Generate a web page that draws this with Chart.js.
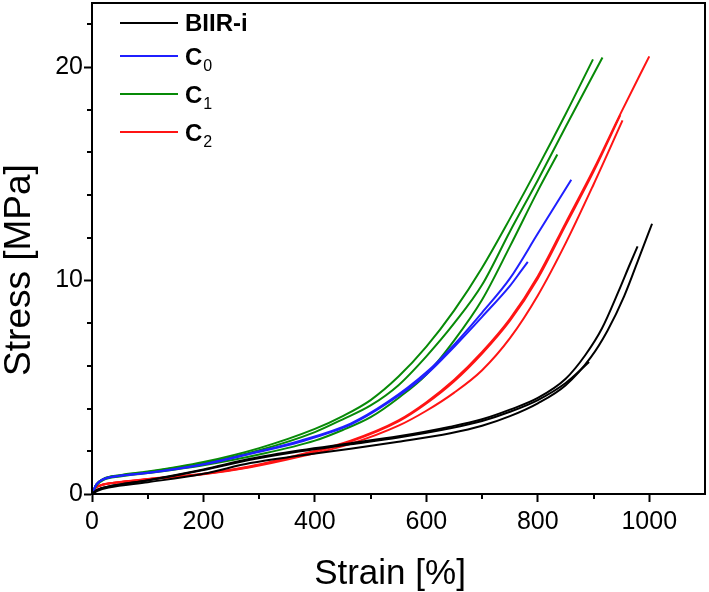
<!DOCTYPE html>
<html>
<head>
<meta charset="utf-8">
<script src="https://cdn.jsdelivr.net/npm/chart.js@4.4.1/dist/chart.umd.min.js"></script>
<style>
    html, body { margin: 0; padding: 0; background: #ffffff; }
    #wrap { width: 709px; height: 592px; }
</style>
</head>
<body>
<div id="wrap"><canvas id="stressChart"></canvas></div>
<script>
// Stress-strain curves, [strain %, stress MPa]
const biirA = [[0,0],[10,0.15],[30,0.3],[100,0.55],[200,0.95],[284,1.45],[374,1.8],[464,2.12],[550,2.45],[643,2.85],[700,3.2],[750,3.65],[800,4.25],[850,5.1],[895,6.4],[925,7.65],[955,9.27],[985,11.3],[1005,12.66]];
const biirB = [[0,0],[10,0.2],[30,0.35],[100,0.65],[200,1.15],[284,1.65],[374,2.05],[464,2.38],[550,2.7],[643,3.15],[700,3.5],[750,3.95],[800,4.5],[850,5.4],[885,6.5],[915,7.75],[945,9.5],[965,10.75],[979,11.6]];
const biirC = [[0,0],[10,0.2],[30,0.35],[100,0.63],[200,1.12],[284,1.6],[374,2.0],[464,2.33],[550,2.65],[643,3.08],[700,3.42],[750,3.85],[800,4.4],[850,5.2],[892,6.18]];

const c0A = [[0,0],[8,0.45],[20,0.7],[50,0.86],[100,1.0],[200,1.4],[284,1.9],[374,2.5],[464,3.3],[530,4.3],[600,5.7],[650,7.0],[700,8.5],[750,10.1],[800,12.2],[860,14.72]];
const c0B = [[0,0],[8,0.45],[20,0.68],[50,0.85],[100,0.98],[200,1.38],[284,1.88],[374,2.45],[464,3.25],[530,4.25],[600,5.6],[650,6.9],[700,8.3],[750,9.75],[770,10.45],[782,10.87]];

const c1A = [[0,0],[8,0.45],[20,0.7],[50,0.88],[100,1.05],[200,1.5],[300,2.15],[400,3.05],[450,3.65],[500,4.4],[550,5.5],[600,6.9],[650,8.6],[700,10.6],[750,12.9],[800,15.3],[850,17.8],[899,20.36]];
const c1B = [[0,0],[8,0.45],[20,0.7],[50,0.87],[100,1.03],[200,1.45],[300,2.05],[400,2.9],[450,3.5],[500,4.15],[550,5.1],[600,6.45],[650,8.0],[700,9.8],[750,12.3],[800,14.7],[850,17.2],[916,20.45]];
const c1C = [[0,0],[8,0.4],[20,0.65],[50,0.82],[100,0.98],[200,1.35],[300,1.85],[400,2.5],[450,3.0],[500,3.6],[550,4.5],[600,5.6],[650,7.2],[700,9.1],[750,11.6],[800,14.2],[835,15.9]];

const c2A = [[0,0],[5,0.25],[15,0.4],[50,0.56],[100,0.7],[200,0.95],[284,1.3],[374,1.85],[464,2.5],[550,3.45],[600,4.3],[650,5.35],[700,6.65],[750,8.2],[800,10.2],[850,12.7],[900,15.2],[950,17.9],[1000,20.5]];
const c2B = [[0,0],[5,0.25],[15,0.4],[50,0.55],[100,0.69],[200,0.94],[284,1.28],[374,1.82],[464,2.46],[550,3.4],[600,4.24],[650,5.28],[700,6.58],[750,8.12],[800,10.1],[850,12.6],[900,15.1],[948,17.75]];
const c2C = [[0,0],[5,0.25],[15,0.4],[50,0.55],[100,0.68],[200,0.92],[284,1.25],[374,1.75],[464,2.35],[550,3.2],[600,3.9],[650,4.75],[700,5.8],[750,7.3],[800,9.3],[850,11.75],[900,14.5],[952,17.5]];

const seriesNames = ['BIIR-i', 'C', 'C', 'C'];
const seriesSubs = ['', '0', '1', '2'];
const seriesColors = ['#000000', '#1f1fff', '#078a07', '#ff1414'];
const seriesCurves = [[biirA, biirB, biirC], [c0A, c0B], [c1A, c1B, c1C], [c2A, c2B, c2C]];

const xTitle = 'Strain [%]';
const yTitle = 'Stress [MPa]';
const xMajor = [0, 200, 400, 600, 800, 1000];
const xMinor = [100, 300, 500, 700, 900];
const yMajor = [0, 10, 20];
const yMinor = [2, 4, 6, 8, 12, 14, 16, 18, 22];

const FONT = '"Liberation Sans", Arial, sans-serif';

const datasets = [];
seriesCurves.forEach((curves, i) => {
    curves.forEach(c => {
        datasets.push({
            label: seriesNames[i] + seriesSubs[i],
            data: c.map(p => ({ x: p[0], y: p[1] })),
            borderColor: seriesColors[i],
            borderWidth: 2,
            pointRadius: 0,
            showLine: true,
            fill: false,
            cubicInterpolationMode: 'monotone'
        });
    });
});

// frame, minor ticks, axis titles and the legend with subscripts
const extrasPlugin = {
    id: 'extras',
    afterDraw(chart) {
        const ctx = chart.ctx;
        const a = chart.chartArea;
        const xs = chart.scales.x, ys = chart.scales.y;
        ctx.save();
        ctx.strokeStyle = '#000';
        ctx.lineWidth = 2;
        ctx.strokeRect(a.left, a.top, a.right - a.left, a.bottom - a.top);
        ctx.beginPath();
        xMinor.forEach(v => {
            const px = Math.round(xs.getPixelForValue(v));
            ctx.moveTo(px, a.bottom);
            ctx.lineTo(px, a.bottom + 5);
        });
        yMinor.forEach(v => {
            const py = Math.round(ys.getPixelForValue(v));
            ctx.moveTo(a.left, py);
            ctx.lineTo(a.left - 5, py);
        });
        ctx.stroke();

        // axis titles
        ctx.fillStyle = '#000';
        ctx.textAlign = 'center';
        ctx.textBaseline = 'middle';
        ctx.font = '35px ' + FONT;
        ctx.fillText(xTitle, 390, 574);
        ctx.save();
        ctx.translate(20, 270);
        ctx.rotate(-Math.PI / 2);
        ctx.font = '37px ' + FONT;
        ctx.fillText(yTitle, 0, 0);
        ctx.restore();

        // legend
        const rowsY = [23, 56, 94, 132];
        ctx.textAlign = 'left';
        seriesNames.forEach((name, i) => {
            const y = rowsY[i];
            ctx.strokeStyle = seriesColors[i];
            ctx.lineWidth = 2;
            ctx.beginPath();
            ctx.moveTo(120, y);
            ctx.lineTo(178, y);
            ctx.stroke();
            ctx.fillStyle = '#000';
            ctx.font = 'bold 24px ' + FONT;
            const ty = seriesSubs[i] ? y + 2 : y + 1;
            ctx.fillText(name, 185, ty);
            if (seriesSubs[i]) {
                const w = ctx.measureText(name).width;
                ctx.font = '16px ' + FONT;
                ctx.fillText(seriesSubs[i], 185 + w + 1, ty + 9);
            }
        });
        ctx.restore();
    }
};

new Chart(document.getElementById('stressChart'), {
    type: 'scatter',
    data: { datasets },
    options: {
        responsive: true,
        maintainAspectRatio: false,
        animation: false,
        layout: { padding: { top: 3, right: 4, left: 0, bottom: 0 } },
        plugins: { legend: { display: false }, tooltip: { enabled: false } },
        scales: {
            x: {
                type: 'linear',
                min: 0,
                max: 1100,
                afterBuildTicks: s => { s.ticks = xMajor.map(v => ({ value: v })); },
                afterFit: s => { s.height = 98; s.paddingLeft = 0; s.paddingRight = 0; },
                border: { display: true, color: '#000', width: 2 },
                grid: { drawOnChartArea: false, drawTicks: true, tickLength: 8, tickColor: '#000', tickWidth: 2 },
                ticks: { color: '#000', padding: 5, maxRotation: 0, callback: v => String(v), font: { family: FONT, size: 25 } },
                title: { display: false }
            },
            y: {
                type: 'linear',
                min: 0,
                max: 23,
                afterBuildTicks: s => { s.ticks = yMajor.map(v => ({ value: v })); },
                afterFit: s => { s.width = 92; s.paddingTop = 0; s.paddingBottom = 0; },
                border: { display: true, color: '#000', width: 2 },
                grid: { drawOnChartArea: false, drawTicks: true, tickLength: 8, tickColor: '#000', tickWidth: 2 },
                ticks: { color: '#000', padding: 1, callback: v => String(v), font: { family: FONT, size: 25 } },
                title: { display: false }
            }
        }
    },
    plugins: [extrasPlugin]
});
</script>
</body>
</html>
